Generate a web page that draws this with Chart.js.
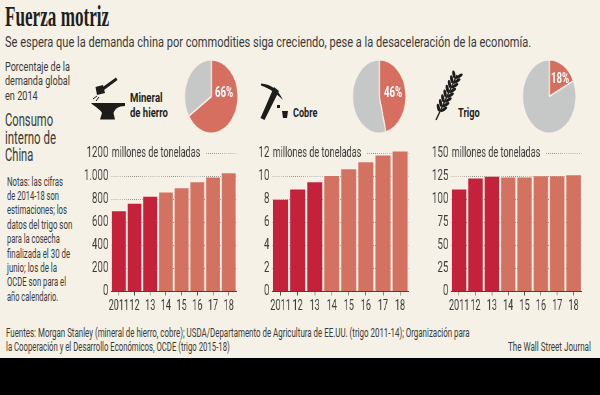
<!DOCTYPE html>
<html lang="es">
<head>
<meta charset="utf-8">
<title>Fuerza motriz</title>
<script src="https://cdn.jsdelivr.net/npm/chart.js@4"></script>
<style>
  html, body { margin: 0; padding: 0; background: #000; }
  #page { position: relative; width: 600px; height: 395px; overflow: hidden; background: #000; }
  #paper { position: absolute; left: 0; top: 0; width: 600px; height: 358px; background: #f5f1e6; }
  #page canvas { position: absolute; transform-origin: 0 0; }
  #icons { position: absolute; left: 0; top: 0; }
  .txt { position: absolute; white-space: nowrap; transform-origin: 0 50%; line-height: 20px; height: 20px; font-family: Roboto, sans-serif; color: #3a3a38; }
</style>
</head>
<body>
<div id="page">
  <div id="paper"></div>
  <svg id="icons" width="600" height="395" fill="#1c1c1a" stroke="none">
    <!-- martillo y yunque -->
    <path d="M100 89 L116 77.5 L117.5 80 L102 91.5 Z"/>
    <path d="M95.5 87 L103 85 L105 93 L97 95 Z"/>
    <path d="M91 103 L125 103 L125 106 C118 106 115 109 113.5 113 L115 119.5 L100 119.5 L102 113 C100 109 95 107 91 103 Z"/>
    <path d="M93 99 L97 96 M96 101 L99 97" stroke="#1c1c1a" stroke-width="1" fill="none"/>
    <!-- pico -->
    <path d="M261 83.5 C270 84 278 89 283 100 C277 94 270 88.500 261 85.500 Z"/>
    <path d="M274 87 L279 91 L264.500 120 L260.500 118 Z"/>
    <path d="M277 105 L280 105 L280 108 L277 108 Z"/>
    <path d="M282 111 L288 111 L287 118 L283 118 Z"/>
    <g id="wheat"></g>
  </svg>
</div>

<script>
// datos
const years = ['2011', '12', '13', '14', '15', '16', '17', '18'];
const hierro = [698, 762, 823, 860, 898, 950, 991, 1029];
const cobre = [7.97, 8.87, 9.5, 10.05, 10.64, 11.25, 11.83, 12.17];
const trigo = [110.9, 122.8, 124.6, 123.9, 123.9, 125.4, 125.4, 126.4];
const hierroTicks = [0, 200, 400, 600, 800, 1000, 1200];
const cobreTicks = [0, 2, 4, 6, 8, 10, 12];
const trigoTicks = [0, 25, 50, 75, 100, 125, 150];
const hierroPct = 66;
const cobrePct = 46;
const trigoPct = 18;

const BG = '#f5f1e6';
const DARK_RED = '#c4213a';
const LIGHT_RED = '#d47262';
const PIE_RED = '#d66f60';
const PIE_GREY = '#c6c7c7';
const INK = '#3a3a38';
const barColors = years.map((y, i) => (i < 3 ? DARK_RED : LIGHT_RED));

const page = document.getElementById('page');

// linea de texto ajustada a su ancho, la fuente original es muy condensada
function line(text, x, y, right, size, opts) {
  const el = document.createElement('div');
  el.className = 'txt';
  el.textContent = text;
  el.style.fontSize = size + 'px';
  el.style.left = x + 'px';
  el.style.top = (y - 10) + 'px';
  if (opts) Object.assign(el.style, opts);
  page.appendChild(el);
  el.style.transform = 'scaleX(' + (right - x) / el.offsetWidth + ')';
}

const serif = { fontFamily: '"Liberation Serif", serif', fontWeight: 'bold', color: '#1f1f1d' };
const bold = { fontWeight: 'bold', color: '#1f1f1d' };

line('Fuerza motriz', 5, 15.5, 109, 29, serif);
line('Se espera que la demanda china por commodities siga creciendo, pese a la desaceleración de la economía.', 5, 42, 531, 15.5);

line('Porcentaje de la', 5, 66.5, 70, 13);
line('demanda global', 5, 81, 70, 13);
line('en 2014', 5, 95.5, 38, 13);
line('Consumo', 5, 120, 53, 17.5);
line('interno de', 5, 137.5, 56, 17.5);
line('China', 5, 155, 33, 17.5);

const notas = [
  ['Notas: las cifras', 63], ['de 2014-18 son', 59], ['estimaciones; los', 67],
  ['datos del trigo son', 72], ['para la cosecha', 60], ['finalizada el 30 de', 70],
  ['junio; los de la', 57], ['OCDE son para el', 66], ['año calendario.', 58]
];
notas.forEach((n, i) => line(n[0], 7, 181.500 + i * 14.4, n[1], 12.5));

line('Mineral', 130, 98, 162.500, 13, bold);
line('de hierro', 130, 113, 168, 13, bold);
line('Cobre', 292.500, 113, 317, 13, bold);
line('Trigo', 458, 113, 480, 13, bold);

line('Fuentes: Morgan Stanley (mineral de hierro, cobre); USDA/Departamento de Agricultura de EE.UU. (trigo 2011-14); Organización para', 6, 332.5, 470, 12.5);
line('la Cooperación y el Desarrollo Económicos, OCDE (trigo 2015-18)', 6, 346.5, 230, 12.5);
line('The Wall Street Journal', 508, 346.5, 591, 12.5);

// espiga
const wheat = document.getElementById('wheat');
let wheatSvg = '<path d="M436 120 L457 75" stroke="#1c1c1a" stroke-width="1.4" fill="none"/>';
for (let i = 0; i < 8; i++) {
  const t = 0.24 + i * 0.105;
  const px = 436 + 21 * t;
  const py = 120 - 45 * t;
  const lx = (px - 2.6).toFixed(1);
  const ly = (py - 1.6).toFixed(1);
  const rx = (px + 2.8).toFixed(1);
  const ry = (py + 0.2).toFixed(1);
  wheatSvg += '<ellipse cx="' + lx + '" cy="' + ly + '" rx="4" ry="1.500" transform="rotate(-100 ' + lx + ' ' + ly + ')"/>';
  wheatSvg += '<ellipse cx="' + rx + '" cy="' + ry + '" rx="4" ry="1.500" transform="rotate(-35 ' + rx + ' ' + ry + ')"/>';
}
wheat.innerHTML = wheatSvg;

// texto de unidad junto a la etiqueta superior
const unitPlugin = {
  id: 'unitText',
  beforeDatasetsDraw(chart, args, opts) {
    const ctx = chart.ctx;
    const y = chart.scales.y.getPixelForValue(opts.top);
    const x = chart.chartArea.left;
    ctx.save();
    ctx.font = '14px Roboto, sans-serif';
    const w = ctx.measureText(opts.text).width;
    ctx.fillStyle = BG;
    ctx.fillRect(x - 1, y - 9, w + 10, 18);
    ctx.fillStyle = INK;
    ctx.textBaseline = 'middle';
    ctx.textAlign = 'left';
    ctx.fillText(opts.text, x + 1, y);
    ctx.restore();
  }
};

const BAR_SX = 0.65;

function barChart(values, ticks, left, right, fmt) {
  const canvasLeft = left - 36;
  const canvas = document.createElement('canvas');
  canvas.width = Math.round((right + 1 - canvasLeft) / BAR_SX);
  canvas.height = 186;
  canvas.style.left = canvasLeft + 'px';
  canvas.style.top = '130px';
  canvas.style.transform = 'scaleX(' + BAR_SX + ')';
  page.appendChild(canvas);
  const top = ticks[ticks.length - 1];
  return new Chart(canvas, {
    type: 'bar',
    plugins: [unitPlugin],
    data: {
      labels: years,
      datasets: [{ data: values, backgroundColor: barColors, barPercentage: 0.88, categoryPercentage: 1 }]
    },
    options: {
      responsive: false,
      animation: false,
      layout: { padding: { top: 17.75, right: 1 / BAR_SX, left: 0, bottom: 0 } },
      plugins: {
        legend: { display: false },
        tooltip: { enabled: false },
        unitText: { text: 'millones de toneladas', top: top }
      },
      scales: {
        x: {
          afterFit(scale) { scale.height = 24.5; },
          grid: { offset: false, drawOnChartArea: false, color: '#444', tickLength: 4 },
          border: { color: '#444', width: 1 },
          ticks: {
            autoSkip: false, maxRotation: 0, padding: 3, color: INK,
            font: { family: 'Roboto, sans-serif', size: 14 }
          }
        },
        y: {
          min: 0,
          max: top * 1.25 / 1.2,
          afterBuildTicks(scale) { scale.ticks = ticks.map(v => ({ value: v })); },
          afterFit(scale) { scale.width = 36 / BAR_SX; },
          grid: { color: '#8a8a84', lineWidth: 1, drawTicks: false },
          border: { display: false, dash: [1, 2] },
          ticks: {
            padding: 4, color: INK,
            font: { family: 'Roboto, sans-serif', size: 15 },
            callback: fmt
          }
        }
      }
    }
  });
}

barChart(hierro, hierroTicks, 110.8, 236, v => (v === 1000 ? '1.000' : String(v)));
barChart(cobre, cobreTicks, 272, 408.300, v => String(v));
barChart(trigo, trigoTicks, 450.500, 581.200, v => String(v));

// tortas: en el original quedaron achatadas, por eso la escala en x
const PIE_SX = 0.727;

function pieChart(pct, cx, labelX, labelY) {
  const canvas = document.createElement('canvas');
  canvas.width = 75;
  canvas.height = 75;
  canvas.style.left = (cx - 37.5 * PIE_SX) + 'px';
  canvas.style.top = '59.2px';
  canvas.style.transform = 'scaleX(' + PIE_SX + ')';
  page.appendChild(canvas);
  new Chart(canvas, {
    type: 'pie',
    data: {
      labels: ['China', 'Resto'],
      datasets: [{ data: [pct, 100 - pct], backgroundColor: [PIE_RED, PIE_GREY], borderColor: BG, borderWidth: 1.500 }]
    },
    options: {
      responsive: false,
      animation: false,
      plugins: { legend: { display: false }, tooltip: { enabled: false } }
    }
  });
  line(pct + '%', labelX - 9, labelY, labelX + 9, 14, { fontWeight: 'bold', color: '#fff' });
}

pieChart(hierroPct, 211.5, 223.5, 92);
pieChart(cobrePct, 379.7, 393, 92);
pieChart(trigoPct, 549.3, 560, 78);
</script>
</body>
</html>
